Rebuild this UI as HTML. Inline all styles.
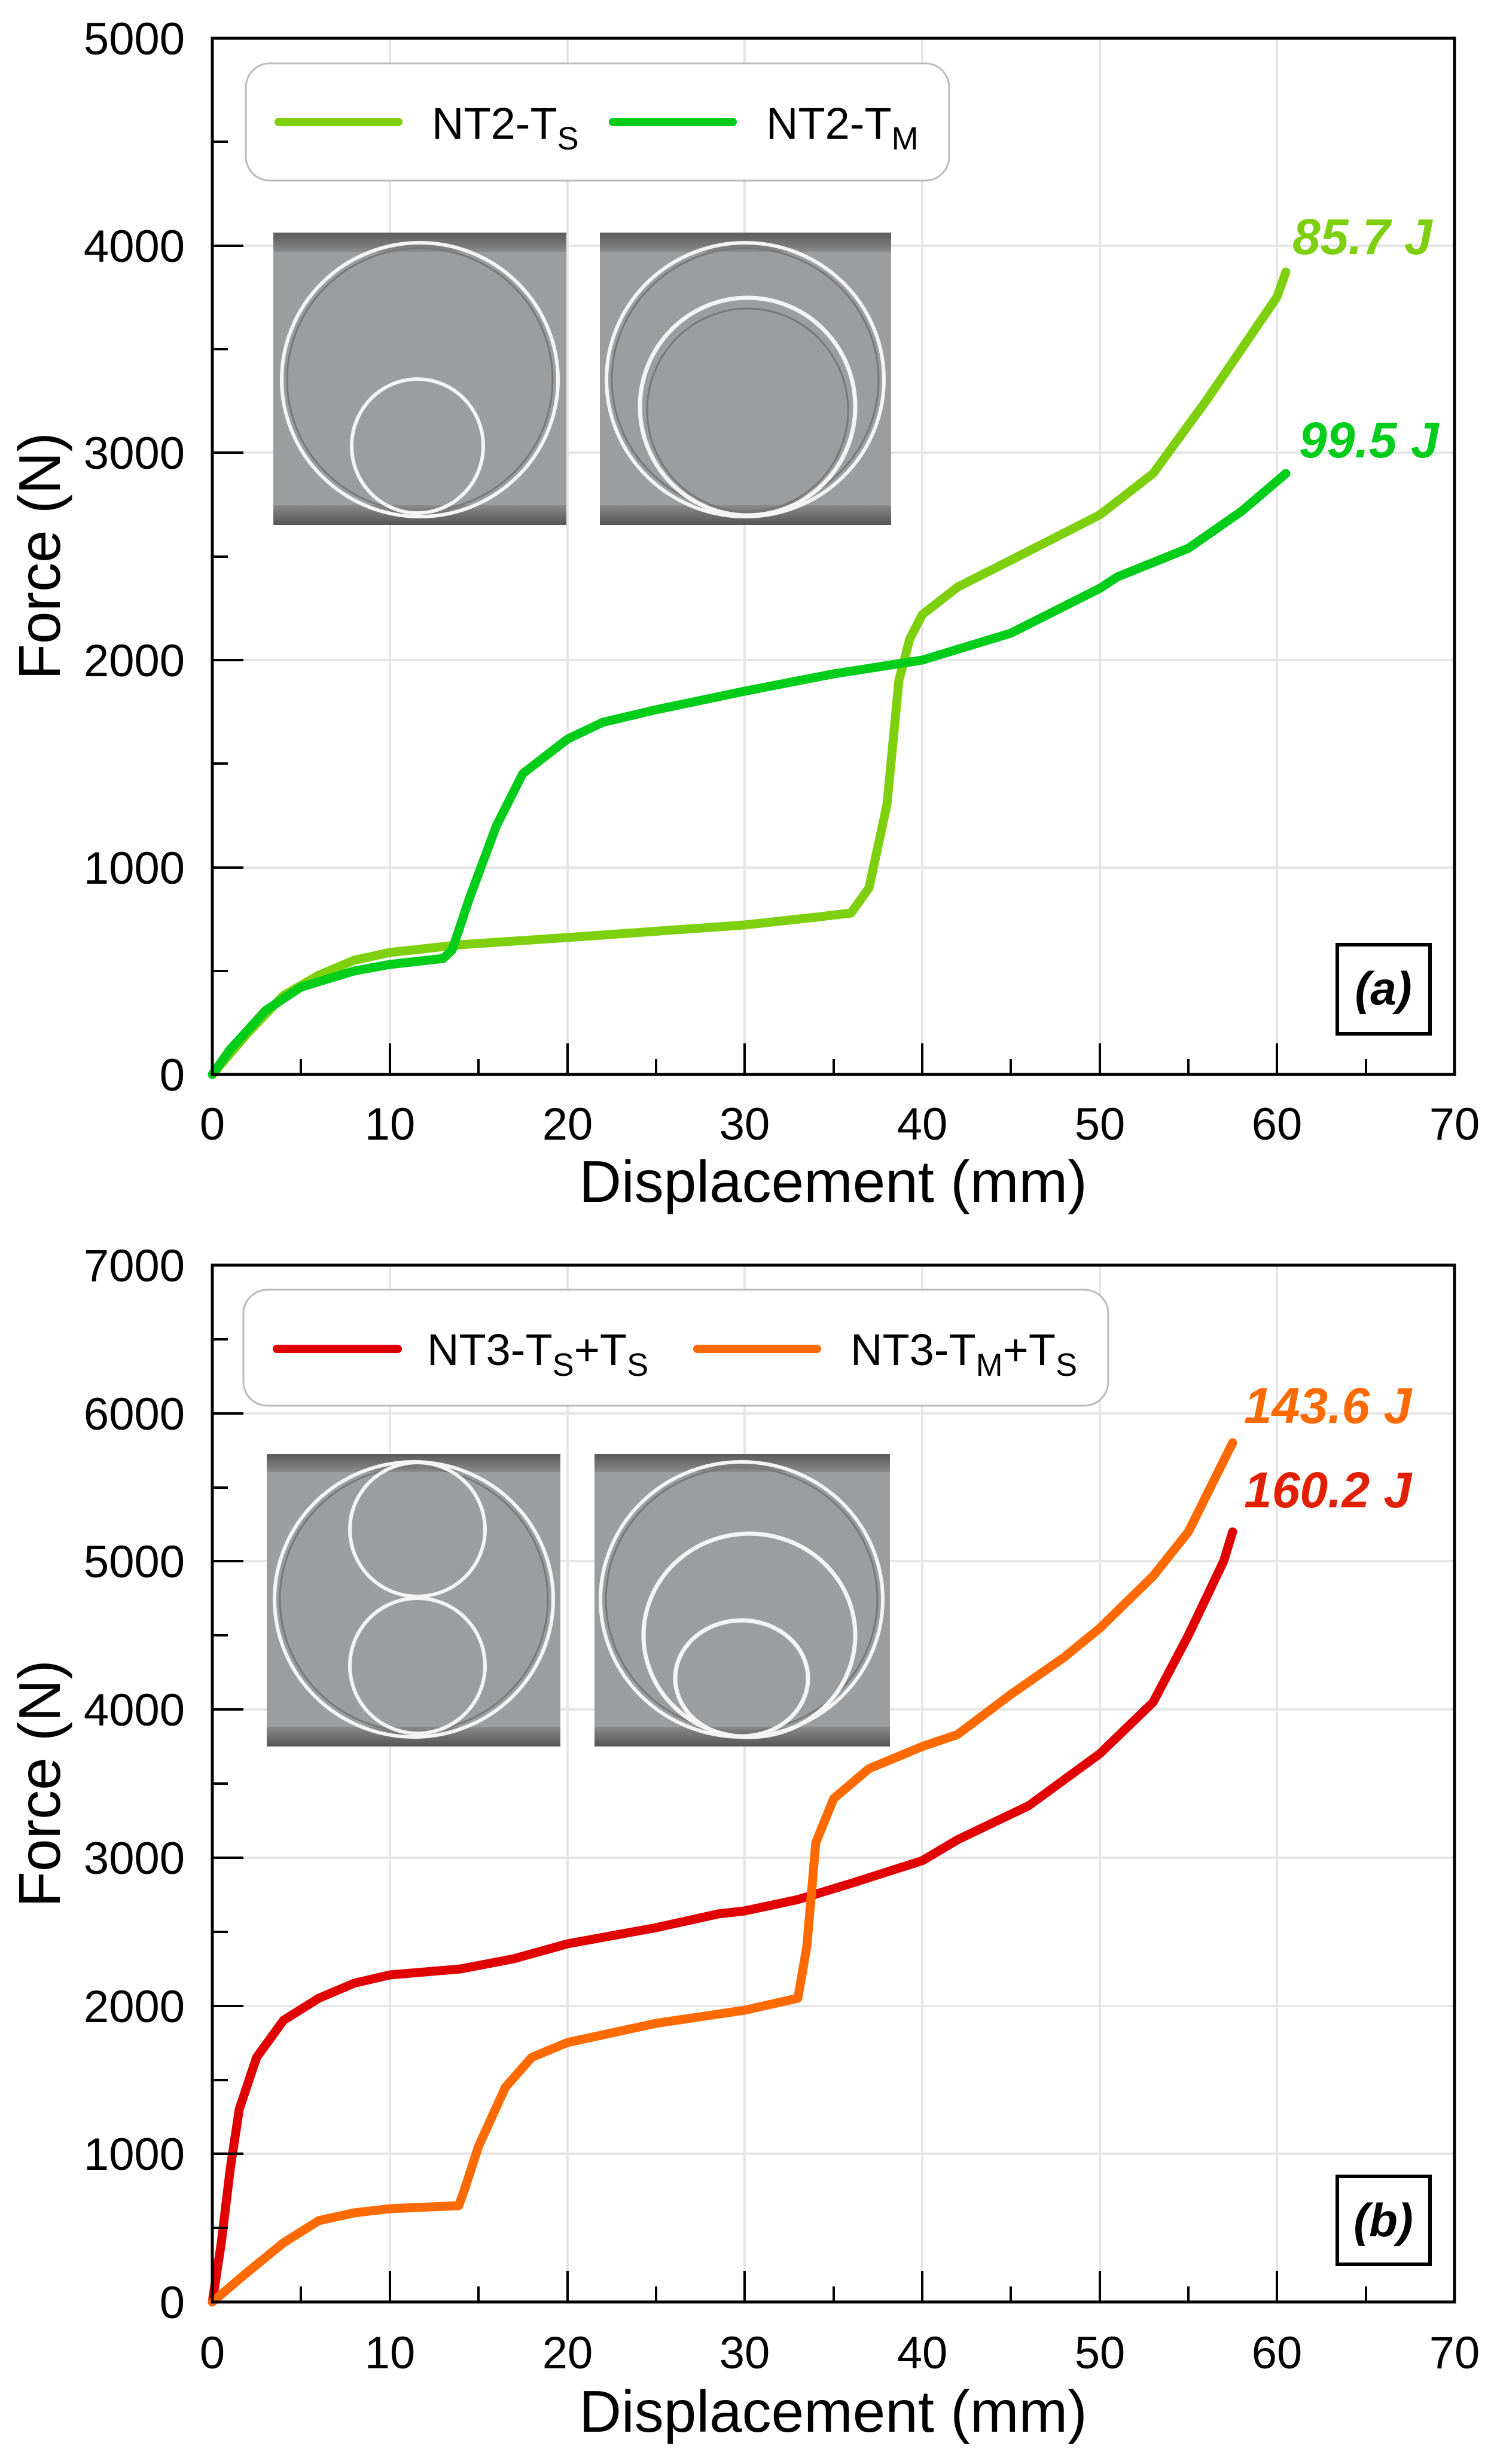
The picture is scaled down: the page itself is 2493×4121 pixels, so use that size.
<!DOCTYPE html>
<html><head><meta charset="utf-8"><style>
html,body{margin:0;padding:0;background:#fff}
svg{display:block}
text{font-family:"Liberation Sans",sans-serif}
</style></head><body>
<svg width="2493" height="4121" viewBox="0 0 2493 4121" xmlns="http://www.w3.org/2000/svg">
<defs>
<linearGradient id="bandT" x1="0" y1="0" x2="0" y2="1"><stop offset="0" stop-color="#5a5a5a"/><stop offset="1" stop-color="#8a8a8a"/></linearGradient>
<linearGradient id="bandB" x1="0" y1="0" x2="0" y2="1"><stop offset="0" stop-color="#8a8a8a"/><stop offset="1" stop-color="#555"/></linearGradient>
</defs>

<!-- ============ PANEL A ============ -->
<g stroke="#e6e6e6" stroke-width="4">
<line x1="652" y1="64" x2="652" y2="1797"/><line x1="949" y1="64" x2="949" y2="1797"/><line x1="1245" y1="64" x2="1245" y2="1797"/><line x1="1542" y1="64" x2="1542" y2="1797"/><line x1="1839" y1="64" x2="1839" y2="1797"/><line x1="2135" y1="64" x2="2135" y2="1797"/>
<line x1="355" y1="411" x2="2432" y2="411"/><line x1="355" y1="757" x2="2432" y2="757"/><line x1="355" y1="1104" x2="2432" y2="1104"/><line x1="355" y1="1451" x2="2432" y2="1451"/>
</g>
<rect x="411" y="106" width="1176" height="196" rx="40" fill="#fff" stroke="#bbb" stroke-width="3"/>
<line x1="466" y1="204" x2="666" y2="204" stroke="#7ED00E" stroke-width="14" stroke-linecap="round"/>
<text x="722" y="232" font-size="74">NT2-T<tspan font-size="54" dy="18">S</tspan></text>
<line x1="1025" y1="204" x2="1225" y2="204" stroke="#00CC1A" stroke-width="14" stroke-linecap="round"/>
<text x="1281" y="232" font-size="74">NT2-T<tspan font-size="54" dy="18">M</tspan></text>
<g>
<rect x="457" y="389" width="490" height="489" fill="#9b9d9f"/>
<rect x="457" y="389" width="490" height="32" fill="url(#bandT)"/>
<rect x="457" y="845" width="490" height="33" fill="url(#bandB)"/>
<ellipse cx="702" cy="635" rx="231" ry="229" fill="none" stroke="#f4f4f4" stroke-width="6"/>
<ellipse cx="702" cy="635" rx="222" ry="220" fill="none" stroke="#777" stroke-width="3"/>
<ellipse cx="698" cy="746" rx="110" ry="112" fill="none" stroke="#f4f4f4" stroke-width="6"/>
<rect x="1003" y="389" width="487" height="489" fill="#9b9d9f"/>
<rect x="1003" y="389" width="487" height="32" fill="url(#bandT)"/>
<rect x="1003" y="845" width="487" height="33" fill="url(#bandB)"/>
<ellipse cx="1246" cy="635" rx="232" ry="229" fill="none" stroke="#f4f4f4" stroke-width="6"/>
<ellipse cx="1246" cy="635" rx="223" ry="220" fill="none" stroke="#777" stroke-width="3"/>
<ellipse cx="1250" cy="680" rx="180" ry="182" fill="none" stroke="#f4f4f4" stroke-width="7"/>
<ellipse cx="1250" cy="686" rx="168" ry="170" fill="none" stroke="#777" stroke-width="3"/>
</g>
<polyline fill="none" stroke="#7ED00E" stroke-width="15" stroke-linecap="round" stroke-linejoin="round" points="355,1797 414,1728 474,1665 533,1631 592,1606 652,1593 770,1580 949,1568 1245,1547 1364,1534 1423,1527 1453,1485 1483,1346 1503,1138 1521,1069 1542,1028 1601,982 1690,937 1839,861 1928,792 2017,670 2135,497 2150,455"/>
<polyline fill="none" stroke="#00CC1A" stroke-width="15" stroke-linecap="round" stroke-linejoin="round" points="355,1797 385,1755 444,1690 503,1651 592,1624 652,1613 741,1603 756,1589 785,1502 830,1381 874,1294 949,1236 1008,1208 1097,1187 1245,1156 1394,1127 1542,1104 1690,1059 1839,984 1868,965 1987,917 2076,855 2150,792"/>
<text x="2161" y="425" font-size="84" font-weight="bold" font-style="italic" fill="#7ED00E">85.7 J</text>
<text x="2172" y="765" font-size="84" font-weight="bold" font-style="italic" fill="#00CC1A">99.5 J</text>
<rect x="2236" y="1580" width="155" height="149" fill="#fff" stroke="#000" stroke-width="6"/>
<text x="2313" y="1680" font-size="78" font-weight="bold" font-style="italic" text-anchor="middle">(a)</text>
<rect x="355" y="64" width="2077" height="1733" fill="none" stroke="#000" stroke-width="5"/>
<g stroke="#000" stroke-width="4">
<line x1="652" y1="1797" x2="652" y2="1745"/><line x1="949" y1="1797" x2="949" y2="1745"/><line x1="1245" y1="1797" x2="1245" y2="1745"/><line x1="1542" y1="1797" x2="1542" y2="1745"/><line x1="1839" y1="1797" x2="1839" y2="1745"/><line x1="2135" y1="1797" x2="2135" y2="1745"/>
<line x1="503" y1="1797" x2="503" y2="1771"/><line x1="800" y1="1797" x2="800" y2="1771"/><line x1="1097" y1="1797" x2="1097" y2="1771"/><line x1="1394" y1="1797" x2="1394" y2="1771"/><line x1="1690" y1="1797" x2="1690" y2="1771"/><line x1="1987" y1="1797" x2="1987" y2="1771"/><line x1="2284" y1="1797" x2="2284" y2="1771"/>
<line x1="355" y1="411" x2="407" y2="411"/><line x1="355" y1="757" x2="407" y2="757"/><line x1="355" y1="1104" x2="407" y2="1104"/><line x1="355" y1="1451" x2="407" y2="1451"/>
<line x1="355" y1="237" x2="381" y2="237"/><line x1="355" y1="584" x2="381" y2="584"/><line x1="355" y1="931" x2="381" y2="931"/><line x1="355" y1="1277" x2="381" y2="1277"/><line x1="355" y1="1624" x2="381" y2="1624"/>
</g>
<g font-size="76" text-anchor="end">
<text x="309" y="91">5000</text><text x="309" y="438">4000</text><text x="309" y="784">3000</text><text x="309" y="1131">2000</text><text x="309" y="1478">1000</text><text x="309" y="1824">0</text>
</g>
<g font-size="76" text-anchor="middle">
<text x="355" y="1906">0</text><text x="652" y="1906">10</text><text x="949" y="1906">20</text><text x="1245" y="1906">30</text><text x="1542" y="1906">40</text><text x="1839" y="1906">50</text><text x="2135" y="1906">60</text><text x="2432" y="1906">70</text>
</g>
<text x="1393" y="2010" font-size="98" text-anchor="middle">Displacement (mm)</text>
<text transform="translate(100,930) rotate(-90)" font-size="98" text-anchor="middle">Force (N)</text>

<!-- ============ PANEL B ============ -->
<g stroke="#e6e6e6" stroke-width="4">
<line x1="652" y1="2116" x2="652" y2="3850"/><line x1="949" y1="2116" x2="949" y2="3850"/><line x1="1245" y1="2116" x2="1245" y2="3850"/><line x1="1542" y1="2116" x2="1542" y2="3850"/><line x1="1839" y1="2116" x2="1839" y2="3850"/><line x1="2135" y1="2116" x2="2135" y2="3850"/>
<line x1="355" y1="2364" x2="2432" y2="2364"/><line x1="355" y1="2611" x2="2432" y2="2611"/><line x1="355" y1="2859" x2="2432" y2="2859"/><line x1="355" y1="3107" x2="2432" y2="3107"/><line x1="355" y1="3355" x2="2432" y2="3355"/><line x1="355" y1="3602" x2="2432" y2="3602"/>
</g>
<rect x="407" y="2157" width="1446" height="194" rx="40" fill="#fff" stroke="#bbb" stroke-width="3"/>
<line x1="463" y1="2256" x2="665" y2="2256" stroke="#E00000" stroke-width="14" stroke-linecap="round"/>
<text x="714" y="2283" font-size="74">NT3-T<tspan font-size="54" dy="18">S</tspan><tspan dy="-18">+T</tspan><tspan font-size="54" dy="18">S</tspan></text>
<line x1="1166" y1="2256" x2="1366" y2="2256" stroke="#FF6A00" stroke-width="14" stroke-linecap="round"/>
<text x="1422" y="2283" font-size="74">NT3-T<tspan font-size="54" dy="18">M</tspan><tspan dy="-18">+T</tspan><tspan font-size="54" dy="18">S</tspan></text>
<g>
<rect x="446" y="2432" width="491" height="489" fill="#9b9d9f"/>
<rect x="446" y="2432" width="491" height="30" fill="url(#bandT)"/>
<rect x="446" y="2888" width="491" height="33" fill="url(#bandB)"/>
<ellipse cx="692" cy="2675" rx="233" ry="230" fill="none" stroke="#f4f4f4" stroke-width="6"/>
<ellipse cx="692" cy="2675" rx="224" ry="221" fill="none" stroke="#777" stroke-width="3"/>
<ellipse cx="698" cy="2558" rx="113" ry="112" fill="none" stroke="#f4f4f4" stroke-width="6"/>
<ellipse cx="698" cy="2786" rx="113" ry="113" fill="none" stroke="#f4f4f4" stroke-width="6"/>
<rect x="994" y="2432" width="494" height="489" fill="#9b9d9f"/>
<rect x="994" y="2432" width="494" height="30" fill="url(#bandT)"/>
<rect x="994" y="2888" width="494" height="33" fill="url(#bandB)"/>
<ellipse cx="1240" cy="2675" rx="236" ry="230" fill="none" stroke="#f4f4f4" stroke-width="6"/>
<ellipse cx="1240" cy="2675" rx="227" ry="221" fill="none" stroke="#777" stroke-width="3"/>
<ellipse cx="1253" cy="2735" rx="177" ry="170" fill="none" stroke="#f4f4f4" stroke-width="7"/>
<ellipse cx="1240" cy="2807" rx="111" ry="97" fill="none" stroke="#f4f4f4" stroke-width="7"/>
</g>
<polyline fill="none" stroke="#E00000" stroke-width="15" stroke-linecap="round" stroke-linejoin="round" points="355,3850 370,3751 385,3627 400,3528 429,3441 474,3379 533,3342 592,3317 652,3303 770,3293 859,3276 949,3251 1097,3224 1201,3201 1245,3196 1334,3177 1423,3150 1542,3112 1601,3077 1720,3020 1839,2933 1928,2847 1987,2735 2046,2611 2061,2562"/>
<polyline fill="none" stroke="#FF6A00" stroke-width="15" stroke-linecap="round" stroke-linejoin="round" points="355,3850 414,3800 474,3751 533,3714 592,3701 652,3694 767,3689 776,3664 800,3590 845,3491 889,3441 949,3416 1097,3384 1245,3362 1334,3342 1349,3256 1364,3082 1394,3008 1453,2958 1542,2921 1601,2901 1690,2834 1779,2772 1839,2723 1928,2636 1987,2562 2061,2413"/>
<text x="2080" y="2380" font-size="84" font-weight="bold" font-style="italic" fill="#FF6A00">143.6 J</text>
<text x="2080" y="2521" font-size="84" font-weight="bold" font-style="italic" fill="#E02000">160.2 J</text>
<rect x="2236" y="3640" width="155" height="147" fill="#fff" stroke="#000" stroke-width="6"/>
<text x="2313" y="3740" font-size="78" font-weight="bold" font-style="italic" text-anchor="middle">(b)</text>
<rect x="355" y="2116" width="2077" height="1734" fill="none" stroke="#000" stroke-width="5"/>
<g stroke="#000" stroke-width="4">
<line x1="652" y1="3850" x2="652" y2="3798"/><line x1="949" y1="3850" x2="949" y2="3798"/><line x1="1245" y1="3850" x2="1245" y2="3798"/><line x1="1542" y1="3850" x2="1542" y2="3798"/><line x1="1839" y1="3850" x2="1839" y2="3798"/><line x1="2135" y1="3850" x2="2135" y2="3798"/>
<line x1="503" y1="3850" x2="503" y2="3824"/><line x1="800" y1="3850" x2="800" y2="3824"/><line x1="1097" y1="3850" x2="1097" y2="3824"/><line x1="1394" y1="3850" x2="1394" y2="3824"/><line x1="1690" y1="3850" x2="1690" y2="3824"/><line x1="1987" y1="3850" x2="1987" y2="3824"/><line x1="2284" y1="3850" x2="2284" y2="3824"/>
<line x1="355" y1="2364" x2="407" y2="2364"/><line x1="355" y1="2611" x2="407" y2="2611"/><line x1="355" y1="2859" x2="407" y2="2859"/><line x1="355" y1="3107" x2="407" y2="3107"/><line x1="355" y1="3355" x2="407" y2="3355"/><line x1="355" y1="3602" x2="407" y2="3602"/>
<line x1="355" y1="2240" x2="381" y2="2240"/><line x1="355" y1="2488" x2="381" y2="2488"/><line x1="355" y1="2735" x2="381" y2="2735"/><line x1="355" y1="2983" x2="381" y2="2983"/><line x1="355" y1="3231" x2="381" y2="3231"/><line x1="355" y1="3479" x2="381" y2="3479"/><line x1="355" y1="3726" x2="381" y2="3726"/>
</g>
<g font-size="76" text-anchor="end">
<text x="309" y="2143">7000</text><text x="309" y="2391">6000</text><text x="309" y="2638">5000</text><text x="309" y="2886">4000</text><text x="309" y="3134">3000</text><text x="309" y="3382">2000</text><text x="309" y="3629">1000</text><text x="309" y="3877">0</text>
</g>
<g font-size="76" text-anchor="middle">
<text x="355" y="3961">0</text><text x="652" y="3961">10</text><text x="949" y="3961">20</text><text x="1245" y="3961">30</text><text x="1542" y="3961">40</text><text x="1839" y="3961">50</text><text x="2135" y="3961">60</text><text x="2432" y="3961">70</text>
</g>
<text x="1393" y="4067" font-size="98" text-anchor="middle">Displacement (mm)</text>
<text transform="translate(100,2983) rotate(-90)" font-size="98" text-anchor="middle">Force (N)</text>
</svg>
</body></html>
